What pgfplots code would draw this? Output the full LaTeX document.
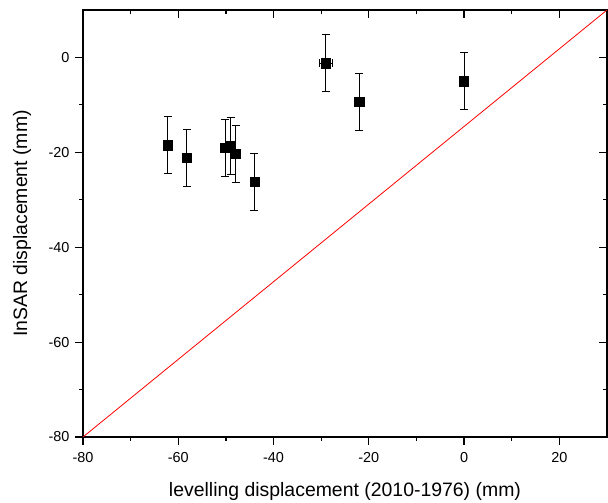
\documentclass[border=0pt]{standalone}
\usepackage{fontspec}
\setmainfont{Liberation Sans}
\usepackage{pgfplots}
\pgfplotsset{compat=1.18}

\pgfplotsset{
  base/.style={
    scale only axis,
    width=524bp, height=427bp,
    xmin=-80, xmax=30, ymin=-80, ymax=10,
    xtick={-80,-60,...,20}, ytick={-80,-60,...,0},
    minor x tick num=1, minor y tick num=1,
    major tick length=8bp, minor tick length=4bp,
    every tick/.style={black, line width=1.2bp},
    /pgf/number format/assume math mode=true,
  }
}

\begin{document}
\begin{tikzpicture}
% ticks outside, bottom and left, with labels
\begin{axis}[
  base,
  axis line style={line width=1.6bp},
  tick align=outside,
  xtick pos=bottom, ytick pos=left,
  ticklabel style={font=\fontsize{14.5}{16}\selectfont},
  xticklabel style={yshift=-4bp},
  yticklabel style={xshift=-2bp},
  xlabel={levelling displacement (2010-1976) (mm)},
  ylabel={InSAR displacement (mm)},
  label style={font=\fontsize{19.5}{22}\selectfont},
  xlabel style={at={(axis description cs:0.5,0)}, anchor=center, yshift=-54bp},
  ylabel style={at={(axis description cs:0,0.5)}, anchor=center, yshift=61bp},
]
\addplot[red, line width=0.8bp] coordinates {(-80,-80) (30,10)};
\addplot[only marks, mark=square*, mark size=4.6bp, black,
  error bars/.cd,
  x dir=both, x explicit, y dir=both, y explicit,
  error bar style={line width=0.9bp, black},
  error mark options={rotate=90, mark size=4bp, line width=0.9bp, black}]
coordinates {
  (-62.2,-18.5) +- (0,6)
  (-58.2,-21.1) +- (0,6)
  (-50.2,-19.1) +- (0,6)
  (-49.0,-18.7) +- (0,6)
  (-47.9,-20.3) +- (0,6)
  (-44.0,-26.2) +- (0,6)
  (-29.0,-1.2) +- (1.4,6)
  (-22.0,-9.3) +- (0,6)
  (0.0,-5.0) +- (0,6)
};
\end{axis}
% ticks inside, top and right, no labels
\begin{axis}[
  base,
  axis line style={draw=none},
  tick align=inside,
  xtick pos=top, ytick pos=right,
  xticklabels={}, yticklabels={},
]
\end{axis}
\pgfresetboundingbox
\path ([xshift=-83bp,yshift=-66bp]current axis.south west) rectangle ([xshift=1bp,yshift=10bp]current axis.north east);
\end{tikzpicture}
\end{document}
